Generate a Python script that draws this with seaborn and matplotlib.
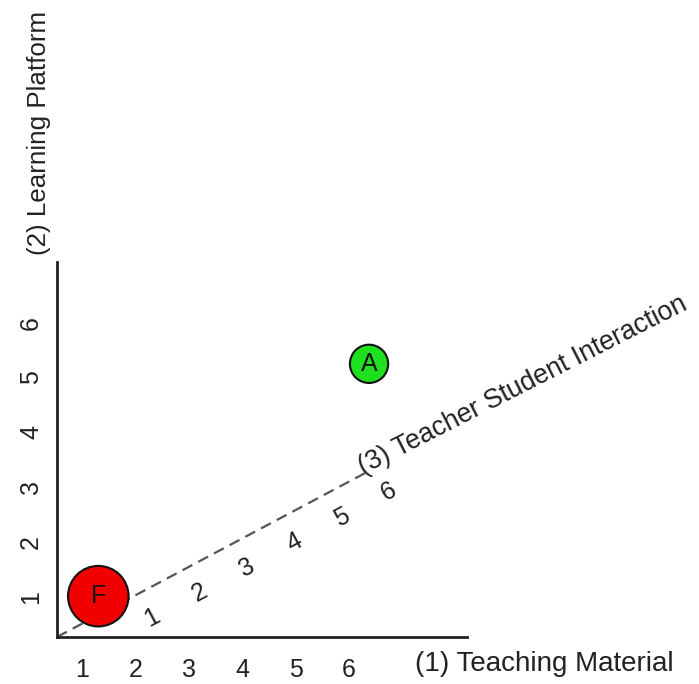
import matplotlib
matplotlib.use("Agg")
import matplotlib.pyplot as plt
import pandas as pd
import seaborn as sns

# axis ticks
x_ticks = [1, 2, 3, 4, 5, 6]
y_ticks = [1, 2, 3, 4, 5, 6]
z_ticks = [1, 2, 3, 4, 5, 6]

x_title = "(1) Teaching Material"
y_title = "(2) Learning Platform"
z_title = "(3) Teacher Student Interaction"

# the two marked points
point_names = ["F", "A"]
point_x = [1.3, 6.38]
point_y = [1.01, 5.25]
point_size = [1900, 760]
point_colors = ["#f20000", "#1fe01f"]

sns.set_style("white")
plt.rcParams["font.family"] = ["Liberation Sans", "DejaVu Sans"]
ink = "#222222"

fig = plt.figure(figsize=(6.99, 6.84), dpi=100)
ax = fig.add_axes([57 / 699, 1 - 637 / 684, 410 / 699, 375 / 684])
ax.set_xlim(0.525, 8.218)
ax.set_ylim(0.265, 7.108)

# third axis drawn as a slanted dashed line, unit step in data coords
x0, y0 = 0.525, 0.265
zx, zy = 0.889, 0.46
def z_to_xy(z):
    return x0 + z * zx, y0 + z * zy

zs = [0, 6.5]
line_df = pd.DataFrame({"x": [z_to_xy(z)[0] for z in zs], "y": [z_to_xy(z)[1] for z in zs]})
sns.lineplot(data=line_df, x="x", y="y", ax=ax, color="#555555", lw=1.6,
             linestyle=(0, (5, 3)), clip_on=False, zorder=1)

for k in z_ticks:
    ax.annotate(str(k), xy=z_to_xy(k + 0.73), xytext=(9.5, -17.7), textcoords="offset points",
                ha="center", va="center", rotation=28, fontsize=18, color=ink,
                annotation_clip=False)

ax.annotate(z_title, xy=z_to_xy(6.5), xytext=(-1, -1), textcoords="offset points",
            ha="left", va="baseline", rotation=27, rotation_mode="anchor",
            fontsize=19.2, color=ink, annotation_clip=False)

pts = pd.DataFrame({"name": point_names, "x": point_x, "y": point_y, "s": point_size})
sns.scatterplot(data=pts, x="x", y="y", hue="name", palette=point_colors, size="s",
                sizes=(min(point_size), max(point_size)), size_norm=(min(point_size), max(point_size)),
                edgecolor="#111111", linewidth=1.5, legend=False, clip_on=False, zorder=3, ax=ax)
for name, px, py in zip(point_names, point_x, point_y):
    ax.text(px, py, name, ha="center", va="center", fontsize=18, color="#111111", zorder=4)

# axes styling
sns.despine(ax=ax)
for side in ["left", "bottom"]:
    ax.spines[side].set_color(ink)
    ax.spines[side].set_linewidth(2)
ax.set_xticks(x_ticks)
ax.set_yticks(y_ticks)
ax.set_xticklabels([str(v) for v in x_ticks], fontsize=18, color=ink)
ax.set_yticklabels([str(v) for v in y_ticks], fontsize=18, color=ink, rotation=90, va="center")
ax.tick_params(axis="x", length=0, pad=15)
ax.tick_params(axis="y", length=0, pad=10)
ax.set_xlabel("")
ax.set_ylabel("")

ax.text(7.242, -0.356, x_title, ha="left", va="baseline", fontsize=20, color=ink, clip_on=False)
ax.text(0.319, 7.235, y_title, ha="left", va="baseline", rotation=90, rotation_mode="anchor",
        fontsize=18.7, color=ink, clip_on=False)

fig.savefig("out.png", dpi=100)
